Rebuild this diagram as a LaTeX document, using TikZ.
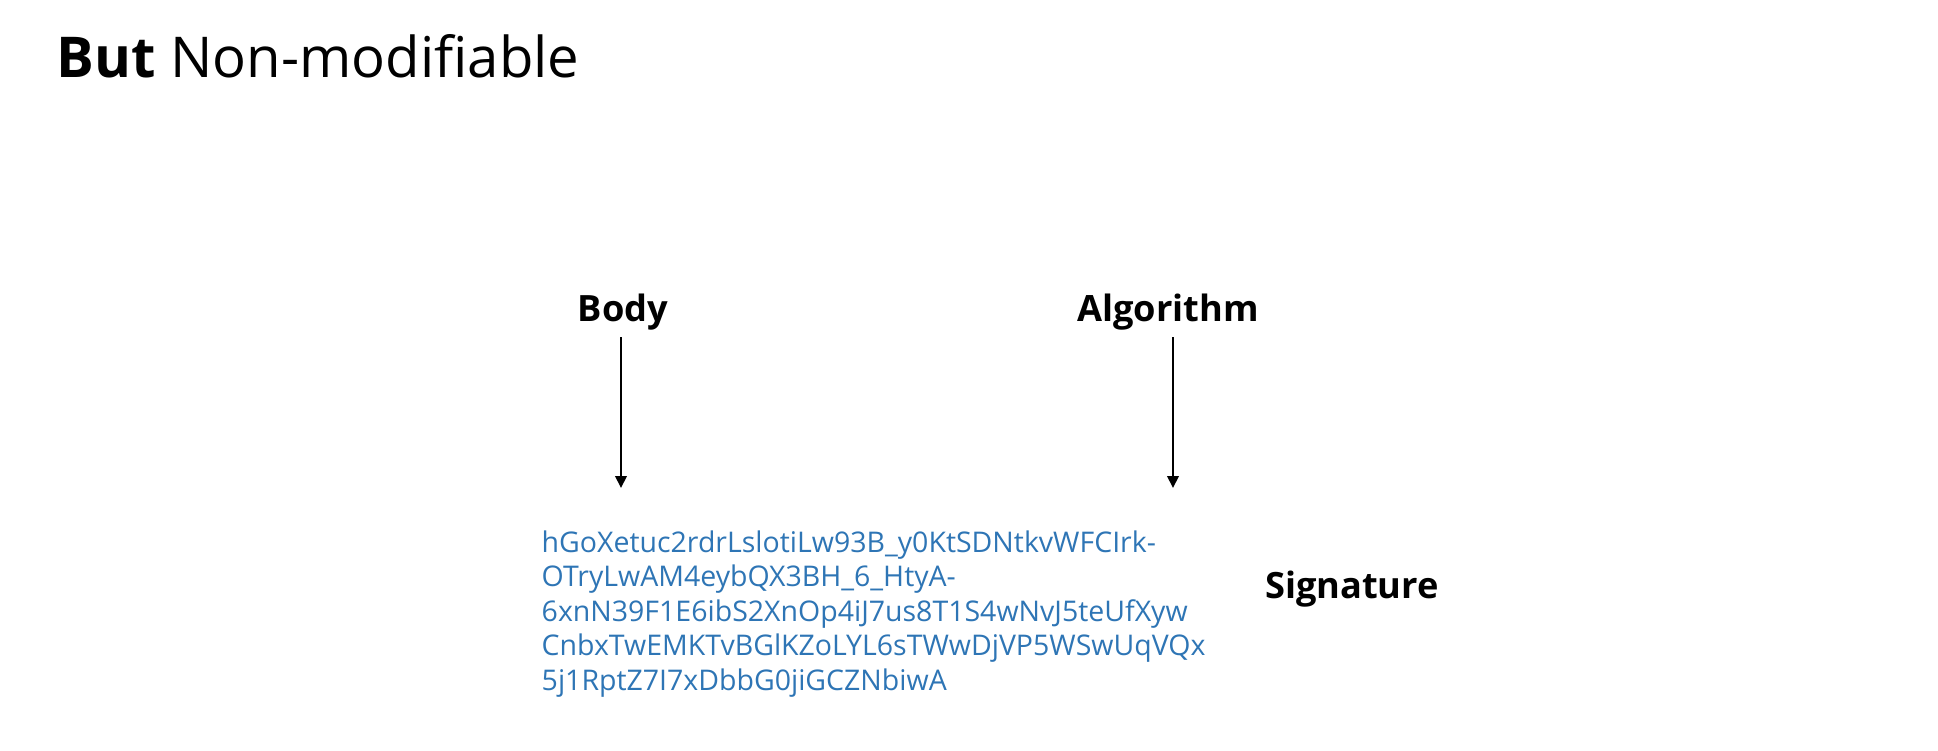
\documentclass[tikz,border=0pt]{standalone}
\usepackage{fontspec}
\setmainfont{Open Sans}
\usetikzlibrary{arrows.meta}
\definecolor{TokenClr}{rgb}{0.18,0.46,0.71}

\begin{document}
\begin{tikzpicture}[x=0.01cm,y=-0.01cm,
  lbl/.style={font=\fontsize{10.3}{12}\selectfont\bfseries,inner sep=2pt},
  sigarrow/.style={-{Triangle[width=3.2pt,length=3.4pt]},line width=0.8pt}]
\useasboundingbox (0,0) rectangle (1938,750);

\node[anchor=base west,inner sep=0,font=\fontsize{16}{20}\selectfont] (title) at (56,77) {\textbf{But} Non-modifiable};

\node[lbl,anchor=base] (body) at (623,321) {Body};
\node[lbl,anchor=base] (algo) at (1168,321) {Algorithm};
\node[lbl,anchor=base] (sig) at (1352,598) {Signature};

\node[anchor=north west,inner sep=0,align=left,text=TokenClr,
  font=\fontsize{8.1}{9.8}\selectfont] (token) at (541,530)
  {hGoXetuc2rdrLslotiLw93B\_y0KtSDNtkvWFCIrk-\\
   OTryLwAM4eybQX3BH\_6\_HtyA-\\
   6xnN39F1E6ibS2XnOp4iJ7us8T1S4wNvJ5teUfXyw\\
   CnbxTwEMKTvBGlKZoLYL6sTWwDjVP5WSwUqVQx\\
   5j1RptZ7I7xDbbG0jiGCZNbiwA};

\coordinate (bodyTip) at (621,488);
\coordinate (algoTip) at (1173,488);
\draw[sigarrow] (body.south -| bodyTip) -- (bodyTip);
\draw[sigarrow] (algo.south -| algoTip) -- (algoTip);
\end{tikzpicture}
\end{document}
